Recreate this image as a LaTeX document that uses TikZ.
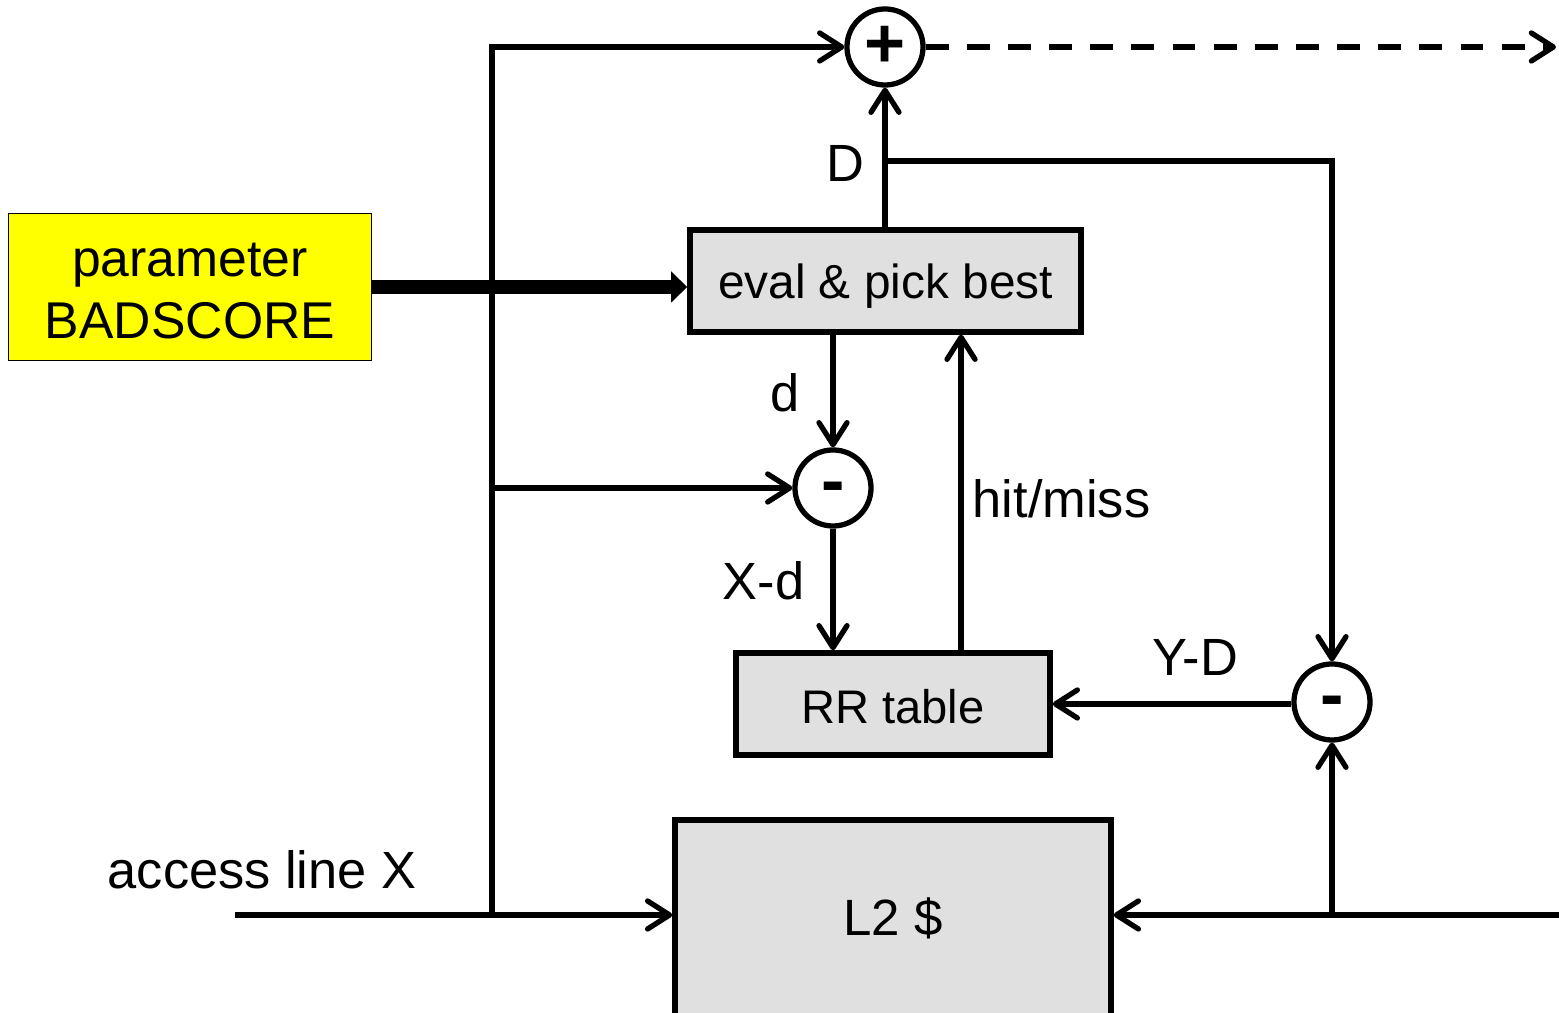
\documentclass[tikz,border=0pt]{standalone}
\usepackage{fontspec}
\setmainfont{Liberation Sans}
\usepackage{tikz}
\usetikzlibrary{arrows.meta,positioning,calc}
\definecolor{boxgray}{RGB}{224,224,224}
\definecolor{parmyellow}{RGB}{255,255,0}
\newcommand{\lowr}[2]{\raisebox{-#1}[\height][\depth]{#2}}

\begin{document}
\begin{tikzpicture}[x=0.01cm,y=-0.01cm,
        blk/.style={draw,line width=1.5pt,fill=boxgray,inner sep=0pt,
                  font=\fontsize{13.6}{16}\selectfont},
        sum/.style={circle,draw,line width=1.5pt,fill=white,
                  minimum size=0.76cm,inner sep=0pt,
                  font=\fontsize{20}{20}\selectfont\bfseries},
        lbl/.style={anchor=base west,inner sep=0pt,
                  font=\fontsize{14.9}{17.8}\selectfont},
        a/.style={-{Straight Barb[length=2.2mm,width=2.8mm,round]},line width=1.5pt}
      ]
        \useasboundingbox (0,0) rectangle (1559,1013);

        \node[draw,line width=0.5pt,fill=parmyellow,minimum width=3.63cm,
              minimum height=1.47cm,align=center,
              font=\fontsize{14.7}{17.6}\selectfont] (par) at (190,287) {\lowr{0.04cm}{parameter}\\\lowr{0.04cm}{BADSCORE}};
        \node[blk,minimum width=3.91cm,minimum height=1.02cm,text depth=0pt] (eval) at (885.5,281) {eval \& pick best};
        \node[blk,minimum width=3.14cm,minimum height=1.02cm,
              font=\fontsize{13.4}{16}\selectfont] (rr) at (893,704) {\lowr{0.03cm}{RR table}};
        \node[blk,minimum width=4.36cm,minimum height=1.96cm,
              font=\fontsize{14.5}{17}\selectfont] (l2) at (893,918) {L2 \$};
        \node[sum] (plus) at (885,47) {+};
        \node[sum] (m1) at (833,488) {\lowr{0.05cm}{-}};
        \node[sum] (m2) at (1332,702) {\lowr{0.05cm}{-}};

        \node[lbl] (lD) at (826,182) {D};
        \node[lbl] (ld) at (770,412) {d};
        \node[lbl] (lxd) at (722,600) {X-d};
        \node[lbl] (lhm) at (972,518) {hit/miss};
        \node[lbl] (lyd) at (1152,676) {Y-D};
        \node[lbl] (lx) at (107,889) {access line X};

        \coordinate (xin) at (235,915);
        \coordinate (yin) at (1559,915);
        \coordinate (xj) at (492,915);
        \coordinate (dj) at (885,161);
        \coordinate (out) at (1556,47);

        \draw[line width=4pt,-{Triangle[length=1.6mm,width=3mm]}] (par.east) -- (par.east -| eval.west);
        \draw[a] (xin) -- (xin -| l2.west);
        \draw[a] (yin) -- (yin -| l2.east);
        \draw[a] (xj) |- (plus.west);
        \draw[a] (xj |- m1) -- (m1.west);
        \draw[a] (eval.north -| plus) -- (plus.south);
        \draw[a] (dj) -| (m2.north);
        \draw[a] (eval.south -| m1) -- (m1.north);
        \draw[a] (m1.south) -- (m1.south |- rr.north);
        \draw[a] ([xshift=0.68cm]rr.north) -- ([xshift=0.68cm]rr.north |- eval.south);
        \draw[a] (m2.west |- rr.east) -- (rr.east);
        \draw[a] (yin -| m2) -- (m2.south);
        \draw[a,dash pattern=on 6.5pt off 5.2pt] (plus.east) -- (out);
      \end{tikzpicture}
\end{document}
